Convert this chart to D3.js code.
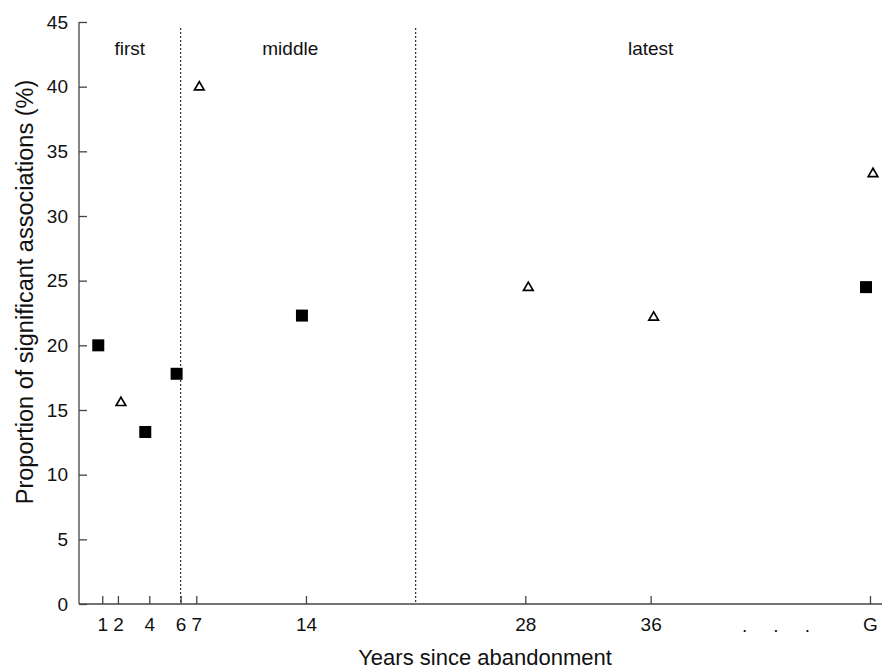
<!DOCTYPE html>
<html>
<head>
<meta charset="utf-8">
<script src="https://cdn.jsdelivr.net/npm/d3@7"></script>
<style>
  body { margin: 0; background: #fff; }
  text { font-family: "Liberation Sans", Arial, sans-serif; fill: #111; }
</style>
</head>
<body>
<div id="chart"></div>
<script>
// --- DATA ---
// x position in years; "G" is drawn at position 50 after the gap
var xTicks = [1, 2, 4, 6, 7, 14, 28, 36, 50];
var xTickLabels = ["1", "2", "4", "6", "7", "14", "28", "36", "G"];
var gapDots = [42, 44, 46];

var squareX = [1, 4, 6, 14, 50];
var squareY = [20.0, 13.3, 17.8, 22.3, 24.5];

var triangleX = [2, 7, 28, 36, 50];
var triangleY = [15.6, 40.0, 24.5, 22.2, 33.3];

var periodBreaks = [6, 21];
var periodNames = ["first", "middle", "latest"];
var periodCenters = [2.75, 13, 36];

var yTicks = [0, 5, 10, 15, 20, 25, 30, 35, 40, 45];

// --- SETUP ---
var width = 882, height = 671;
var margin = {left: 79, top: 22, bottom: 67};

var svg = d3.select("#chart").append("svg")
  .attr("width", width)
  .attr("height", height);

var x = d3.scaleLinear().domain([0, 50]).range([86.6, 870]);
var y = d3.scaleLinear().domain([0, 45]).range([height - margin.bottom, margin.top]);

var axisColor = "#444";

// --- AXES ---
var yAxis = svg.append("g")
  .attr("transform", "translate(" + margin.left + ",0)")
  .call(d3.axisLeft(y).tickValues(yTicks).tickSize(-8).tickPadding(11));

var xAxis = svg.append("g")
  .attr("transform", "translate(0," + y(0) + ")")
  .call(d3.axisBottom(x).tickValues(xTicks).tickSize(-8).tickPadding(14)
    .tickFormat(function(d, i) { return xTickLabels[i]; }));

[yAxis, xAxis].forEach(function(g) {
  g.select(".domain").remove();
  g.selectAll(".tick line").attr("stroke", axisColor).attr("stroke-width", 1.3);
  g.selectAll(".tick text").style("font-size", "19px").attr("fill", "#111");
});

svg.append("line")
  .attr("x1", margin.left).attr("x2", margin.left)
  .attr("y1", y(45)).attr("y2", y(0))
  .attr("stroke", axisColor).attr("stroke-width", 1.3);
svg.append("line")
  .attr("x1", margin.left).attr("x2", 882)
  .attr("y1", y(0)).attr("y2", y(0))
  .attr("stroke", axisColor).attr("stroke-width", 1.3);

// gap dots between 36 and G
svg.selectAll(".gap-dot")
  .data(gapDots).enter().append("text")
  .attr("class", "gap-dot")
  .attr("x", d => x(d))
  .attr("y", 632)
  .attr("text-anchor", "middle")
  .style("font-size", "19px")
  .text(".");

// --- PERIOD DIVIDERS ---
svg.selectAll(".period-line")
  .data(periodBreaks).enter().append("line")
  .attr("class", "period-line")
  .attr("x1", d => x(d)).attr("x2", d => x(d))
  .attr("y1", 28).attr("y2", y(0))
  .attr("stroke", "#333")
  .attr("stroke-width", 1.2)
  .attr("stroke-dasharray", "2,2");

svg.selectAll(".period-name")
  .data(periodNames).enter().append("text")
  .attr("class", "period-name")
  .attr("x", (d, i) => x(periodCenters[i]))
  .attr("y", 55)
  .attr("text-anchor", "middle")
  .style("font-size", "19px")
  .text(d => d);

// --- POINTS ---
var squares = squareX.map((d, i) => ({x: d, y: squareY[i]}));
var triangles = triangleX.map((d, i) => ({x: d, y: triangleY[i]}));

svg.selectAll(".sq")
  .data(squares).enter().append("rect")
  .attr("class", "sq")
  .attr("x", d => x(d.x) - 4 - 6)
  .attr("y", d => y(d.y) - 6)
  .attr("width", 12).attr("height", 12)
  .attr("fill", "#000");

var triSymbol = d3.symbol().type(d3.symbolTriangle).size(40);
svg.selectAll(".tri")
  .data(triangles).enter().append("path")
  .attr("class", "tri")
  .attr("d", triSymbol)
  .attr("transform", d => "translate(" + (x(d.x) + 3) + "," + (y(d.y) + 0.5) + ")")
  .attr("fill", "#fff")
  .attr("stroke", "#000")
  .attr("stroke-width", 1.7);

// --- AXIS TITLES ---
svg.append("text")
  .attr("x", 485).attr("y", 665)
  .attr("text-anchor", "middle")
  .style("font-size", "22px")
  .text("Years since abandonment");

svg.append("text")
  .attr("transform", "translate(33,292) rotate(-90)")
  .attr("text-anchor", "middle")
  .style("font-size", "23.5px")
  .text("Proportion of significant associations (%)");
</script>
</body>
</html>
